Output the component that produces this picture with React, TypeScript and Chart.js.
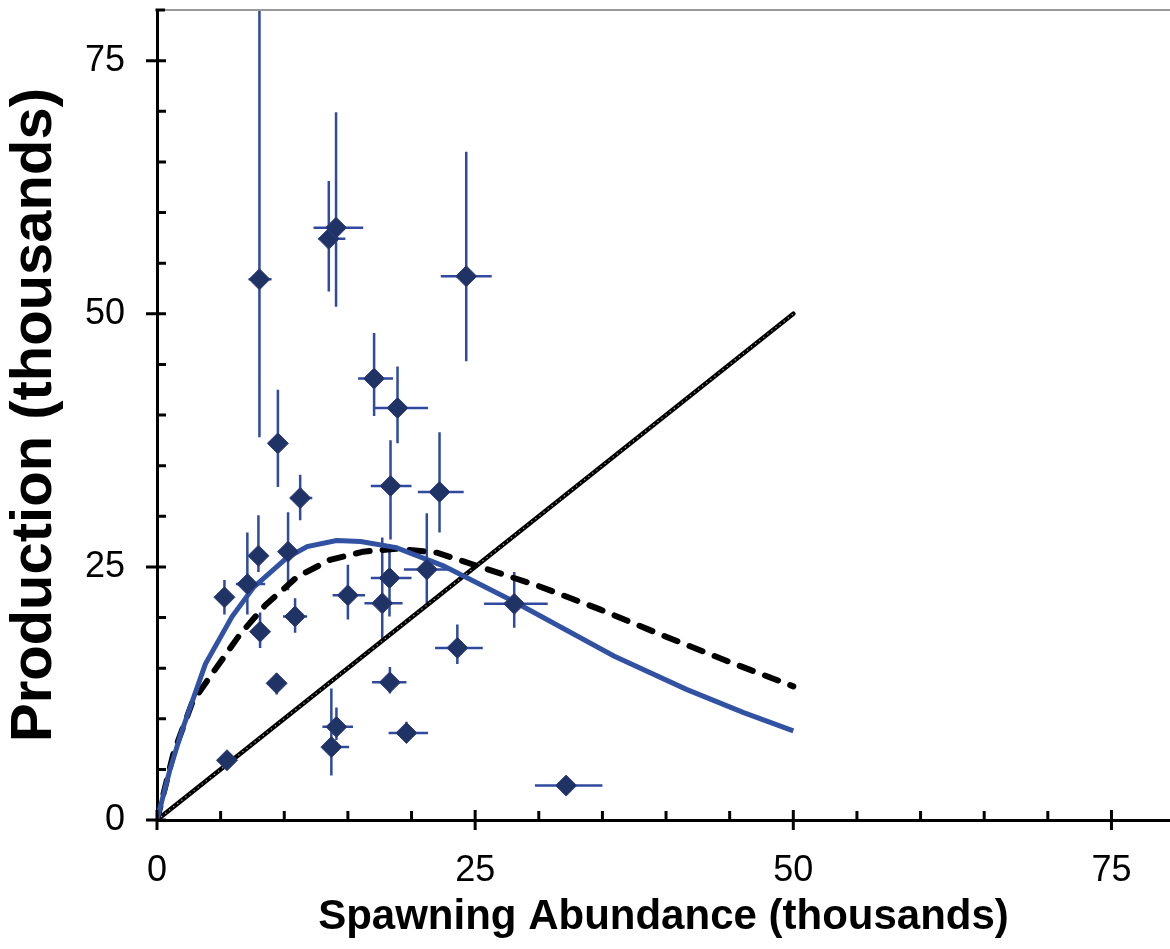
import React, { useEffect, useRef } from "react";
import { Chart, registerables } from "chart.js";
Chart.register(...registerables);

const FONT = "Arial, 'Liberation Sans', sans-serif";

// Observed data points (thousands)
const spawnX = [5.3, 5.5, 7.1, 8.05, 7.97, 8.1, 9.5, 9.4, 10.3, 10.85, 11.25, 13.5, 14.07, 13.7, 14.1, 15.0, 17.06, 17.7, 18.27, 18.35, 18.3, 18.9, 19.6, 21.2, 22.2, 23.6, 24.3, 28.07, 32.15];
const prodY = [22.0, 5.9, 23.3, 53.4, 26.1, 18.6, 37.2, 13.5, 26.5, 20.1, 31.8, 57.4, 58.5, 7.2, 9.2, 22.2, 43.6, 21.4, 23.9, 33.0, 13.6, 40.7, 8.6, 24.75, 32.4, 17.0, 53.7, 21.35, 3.4];
// Error bar bounds
const xLow = [5.0, 5.5, 6.2, 7.2, 7.97, 8.1, 9.2, 9.4, 9.8, 9.9, 10.5, 12.7, 12.3, 13.05, 13.0, 13.8, 15.8, 16.3, 16.8, 16.8, 16.9, 17.0, 18.2, 19.4, 20.5, 21.85, 22.3, 25.7, 29.7];
const xHigh = [5.6, 5.5, 8.5, 9.0, 7.97, 8.1, 9.8, 9.4, 10.8, 11.8, 12.2, 14.8, 16.2, 15.1, 15.4, 16.35, 18.55, 19.3, 20.0, 20.0, 19.6, 21.3, 21.3, 23.0, 24.1, 25.6, 26.3, 30.7, 35.0];
const yLow = [20.3, 5.9, 20.3, 37.8, 24.5, 17.0, 32.9, 12.4, 22.7, 18.5, 29.6, 52.2, 50.7, 4.4, 7.9, 19.8, 39.9, 17.8, 20.1, 27.7, 12.5, 37.2, 7.6, 21.4, 28.4, 15.4, 45.3, 19.0, 3.4];
const yHigh = [23.7, 5.9, 28.4, 95, 30.1, 20.5, 42.5, 14.5, 30.4, 21.9, 34.1, 63.1, 69.9, 13.0, 11.1, 25.2, 48.1, 27.9, 27.2, 37.5, 15.1, 44.8, 9.7, 30.3, 38.3, 19.3, 66.0, 24.5, 3.4];

// Fitted curve (blue, solid)
const blueX = [0, 1.0, 1.9, 3.8, 5.9, 7.6, 10.2, 11.8, 14.1, 16.0, 18.8, 22.5, 28.0, 35.9, 41.6, 46.1, 50];
const blueY = [0, 4.9, 8.6, 15.4, 20.1, 23.0, 25.9, 27.0, 27.6, 27.5, 26.9, 25.1, 21.6, 16.2, 12.9, 10.6, 8.8];

// Second curve (black, dashed)
const dashX = [0, 1.3, 2.8, 4.7, 6.5, 8.5, 11, 13.6, 16.2, 18.8, 22, 25.4, 30, 34.8, 40, 45, 50];
const dashY = [0, 6.6, 11.7, 15.1, 18.3, 21.2, 24.0, 25.7, 26.5, 26.8, 26.4, 25.0, 23.1, 20.8, 18.1, 15.6, 13.2];

// Replacement line
const replX = [0, 50];
const replY = [0, 50];

// Axis ticks
const majorTicks = [0, 25, 50, 75];
const minorTicks = [5, 10, 15, 20, 30, 35, 40, 45, 55, 60, 65, 70];

const toPts = (xs: number[], ys: number[]) => xs.map((x, i) => ({ x, y: ys[i] }));

const zeroPad = (s: any) => {
  s.paddingTop = 0;
  s.paddingBottom = 0;
  s.paddingLeft = 0;
  s.paddingRight = 0;
};

const decorPlugin = {
  id: "decor",
  beforeDatasetsDraw(chart: any) {
    const { ctx, chartArea: a, scales } = chart;
    const x = scales.x, y = scales.y;
    ctx.save();
    ctx.beginPath();
    ctx.rect(a.left, a.top, a.right - a.left, a.bottom - a.top);
    ctx.clip();
    ctx.strokeStyle = "#2F4A9E";
    ctx.lineWidth = 2.5;
    ctx.beginPath();
    for (let i = 0; i < spawnX.length; i++) {
      const px = x.getPixelForValue(spawnX[i]);
      const py = y.getPixelForValue(prodY[i]);
      if (xHigh[i] > xLow[i]) {
        ctx.moveTo(x.getPixelForValue(xLow[i]), py);
        ctx.lineTo(x.getPixelForValue(xHigh[i]), py);
      }
      if (yHigh[i] > yLow[i]) {
        ctx.moveTo(px, y.getPixelForValue(yLow[i]));
        ctx.lineTo(px, y.getPixelForValue(yHigh[i]));
      }
    }
    ctx.stroke();
    ctx.restore();
  },
  afterDraw(chart: any) {
    const { ctx, chartArea: a, scales } = chart;
    const x = scales.x, y = scales.y;
    ctx.save();
    ctx.strokeStyle = "#9a9a9a";
    ctx.lineWidth = 2;
    ctx.beginPath();
    ctx.moveTo(a.left, a.top);
    ctx.lineTo(a.right, a.top);
    ctx.stroke();
    ctx.strokeStyle = "#000";
    ctx.lineWidth = 3;
    ctx.beginPath();
    ctx.moveTo(a.left - 1.5, a.top);
    ctx.lineTo(a.left + 8, a.top);
    for (const v of majorTicks) {
      const px = x.getPixelForValue(v);
      ctx.moveTo(px, a.bottom - 10);
      ctx.lineTo(px, a.bottom + 10);
      const py = y.getPixelForValue(v);
      ctx.moveTo(a.left - 11, py);
      ctx.lineTo(a.left + 9, py);
    }
    for (const v of minorTicks) {
      const px = x.getPixelForValue(v);
      ctx.moveTo(px, a.bottom);
      ctx.lineTo(px, a.bottom - 9);
      const py = y.getPixelForValue(v);
      if (py >= a.top) {
        ctx.moveTo(a.left, py);
        ctx.lineTo(a.left + 9, py);
      }
    }
    ctx.stroke();
    ctx.restore();
  },
};

export default function App() {
  const ref = useRef<HTMLCanvasElement | null>(null);
  useEffect(() => {
    if (!ref.current) return;
    const chart = new Chart(ref.current, {
      type: "scatter",
      data: {
        datasets: [
          {
            type: "scatter",
            data: toPts(spawnX, prodY),
            pointStyle: "rectRot",
            pointRadius: 10.5,
            backgroundColor: "#1F3464",
            borderColor: "#2E3C82",
            borderWidth: 1,
            order: 0,
          } as any,
          {
            type: "line",
            data: toPts(blueX, blueY),
            showLine: true,
            borderColor: "#3152A3",
            borderWidth: 5,
            pointRadius: 0,
            tension: 0,
            fill: false,
            order: 1,
          },
          {
            type: "line",
            data: toPts(dashX, dashY),
            showLine: true,
            borderColor: "#000",
            borderWidth: 6,
            borderDash: [14, 13],
            borderCapStyle: "round",
            pointRadius: 0,
            tension: 0,
            fill: false,
            order: 2,
          },
          {
            type: "line",
            data: toPts(replX, replY),
            showLine: true,
            borderColor: "#b0b0b0",
            borderWidth: 1.2,
            borderDash: [1.2, 4],
            pointRadius: 0,
            fill: false,
            order: 3,
          },
          {
            type: "line",
            data: toPts(replX, replY),
            showLine: true,
            borderColor: "#000",
            borderWidth: 4.5,
            borderCapStyle: "round",
            pointRadius: 0,
            fill: false,
            order: 4,
          },
        ],
      },
      options: {
        animation: false,
        responsive: false,
        devicePixelRatio: 1,
        layout: { autoPadding: false, padding: { top: 10, left: 0, right: 0, bottom: 0 } },
        plugins: { legend: { display: false }, tooltip: { enabled: false } },
        scales: {
          x: {
            type: "linear",
            min: 0,
            max: 79.6,
            afterFit: (s: any) => { s.height = 129; zeroPad(s); },
            grid: { display: false, drawTicks: false },
            border: { display: true, color: "#000", width: 3 },
            ticks: {
              stepSize: 25,
              includeBounds: false,
              autoSkip: false,
              maxRotation: 0,
              padding: 29,
              color: "#000",
              font: { family: FONT, size: 36 },
              callback: (v: any) => (Number(v) % 25 === 0 ? String(v) : ""),
            },
            title: {
              display: true,
              text: "Spawning Abundance (thousands)",
              color: "#000",
              font: { family: FONT, size: 42, weight: "bold" },
              padding: { top: 0, bottom: 6 },
            },
          },
          y: {
            type: "linear",
            min: 0,
            max: 80,
            afterFit: (s: any) => { s.width = 157; zeroPad(s); },
            grid: { display: false, drawTicks: false },
            border: { display: true, color: "#000", width: 3 },
            ticks: {
              stepSize: 25,
              includeBounds: false,
              autoSkip: false,
              padding: 32,
              color: "#000",
              font: { family: FONT, size: 36 },
              callback: (v: any) => (Number(v) % 25 === 0 ? String(v) : ""),
            },
            title: {
              display: true,
              text: "Production (thousands)",
              color: "#000",
              font: { family: FONT, size: 58, weight: "bold" },
              padding: { top: 0, bottom: 0 },
            },
          },
        },
      } as any,
      plugins: [decorPlugin],
    });
    return () => chart.destroy();
  }, []);
  return (
    <div style={{ position: "absolute", left: 0, top: 0, width: 1170, height: 949, background: "#fff" }}>
      <canvas ref={ref} width={1170} height={949} style={{ display: "block" }} />
    </div>
  );
}
